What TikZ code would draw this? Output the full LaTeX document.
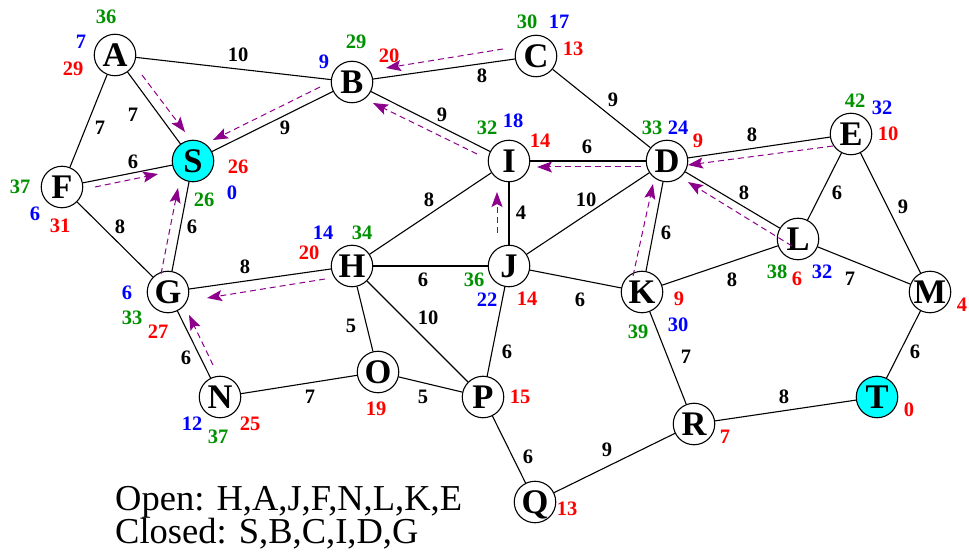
\documentclass[tikz,border=0pt]{standalone}
\usepackage{fontspec}
\setmainfont{Liberation Serif}
\usetikzlibrary{arrows.meta}
\definecolor{lgreen}{RGB}{0,145,0}
\definecolor{lblue}{RGB}{0,0,255}
\definecolor{lred}{RGB}{255,0,0}
\definecolor{ppurple}{RGB}{140,0,140}
\definecolor{vcyan}{RGB}{0,255,255}
\begin{document}
\begin{tikzpicture}[x=1pt,y=-1pt,
  vtx/.style={circle,draw=black,line width=1.1pt,fill=white,minimum size=41.5pt,inner sep=0pt,
    text height=22.5pt,text depth=0pt,font=\fontsize{34.5}{34.5}\selectfont\bfseries},
  goal/.style={vtx,fill=vcyan},
  edge/.style={line width=1.1pt,black},
  num/.style={inner sep=0pt,font=\fontsize{20.5}{20.5}\selectfont\bfseries},
  wnum/.style={num,text=black},
  gnum/.style={num,text=lgreen},
  bnum/.style={num,text=lblue},
  rnum/.style={num,text=lred},
  parent/.style={ppurple,line width=1pt,dash pattern=on 6pt off 4pt,
    -{Stealth[length=15pt,width=11pt,inset=3pt]}},
  info/.style={anchor=base west,inner sep=0pt,font=\fontsize{36.5}{36.5}\selectfont}
]
\useasboundingbox (0,0) rectangle (969,553);

% vertices
\node[vtx]  (A) at (115,55)  {\makebox[0pt]{A}};
\node[goal] (S) at (193,161) {\makebox[0pt]{S}};
\node[vtx]  (F) at (62,187)  {\makebox[0pt]{F}};
\node[vtx]  (B) at (352,82)  {\makebox[0pt]{B}};
\node[vtx]  (C) at (536,56)  {\makebox[0pt]{C}};
\node[vtx]  (I) at (509,161) {\makebox[0pt]{I}};
\node[vtx]  (H) at (352,266) {\makebox[0pt]{H}};
\node[vtx]  (J) at (509,266) {\makebox[0pt]{J}};
\node[vtx]  (D) at (667,161) {\makebox[0pt]{D}};
\node[vtx]  (E) at (851,134) {\makebox[0pt]{E}};
\node[vtx]  (L) at (798,239) {\makebox[0pt]{L}};
\node[vtx]  (G) at (168,292) {\makebox[0pt]{G}};
\node[vtx]  (N) at (220,397) {\makebox[0pt]{N}};
\node[vtx]  (O) at (378,372) {\makebox[0pt]{O}};
\node[vtx]  (P) at (483,397) {\makebox[0pt]{P}};
\node[vtx]  (Q) at (535,502) {\makebox[0pt]{Q}};
\node[vtx]  (K) at (642,292) {\makebox[0pt]{K}};
\node[vtx]  (M) at (930,292) {\makebox[0pt]{M}};
\node[vtx]  (R) at (694,424) {\makebox[0pt]{R}};
\node[goal] (T) at (877,397) {\makebox[0pt]{T}};

% edges
\draw[edge] (A) -- (B);
\draw[edge] (A) -- (S);
\draw[edge] (A) -- (F);
\draw[edge] (F) -- (S);
\draw[edge] (F) -- (G);
\draw[edge] (S) -- (B);
\draw[edge] (S) -- (G);
\draw[edge] (B) -- (C);
\draw[edge] (B) -- (I);
\draw[edge] (C) -- (D);
\draw[edge] (I) -- (D);
\draw[edge] (I) -- (J);
\draw[edge] (I) -- (H);
\draw[edge] (D) -- (E);
\draw[edge] (D) -- (L);
\draw[edge] (D) -- (J);
\draw[edge] (D) -- (K);
\draw[edge] (E) -- (L);
\draw[edge] (E) -- (M);
\draw[edge] (L) -- (K);
\draw[edge] (L) -- (M);
\draw[edge] (G) -- (H);
\draw[edge] (H) -- (J);
\draw[edge] (H) -- (O);
\draw[edge] (H) -- (P);
\draw[edge] (J) -- (K);
\draw[edge] (J) -- (P);
\draw[edge] (G) -- (N);
\draw[edge] (N) -- (O);
\draw[edge] (O) -- (P);
\draw[edge] (P) -- (Q);
\draw[edge] (Q) -- (R);
\draw[edge] (K) -- (R);
\draw[edge] (R) -- (T);
\draw[edge] (M) -- (T);

% edge weights
\node[wnum] (wAB) at (238,55)  {10};
\node[wnum] (wAS) at (133,115) {7};
\node[wnum] (wAF) at (100,128) {7};
\node[wnum] (wFS) at (133,162) {6};
\node[wnum] (wFG) at (120,227) {8};
\node[wnum] (wSB) at (285,128) {9};
\node[wnum] (wSG) at (192,227) {6};
\node[wnum] (wGH) at (245,267) {8};
\node[wnum] (wBC) at (482,76)  {8};
\node[wnum] (wBI) at (442,115) {9};
\node[wnum] (wCD) at (613,100) {9};
\node[wnum] (wID) at (587,147) {6};
\node[wnum] (wHI) at (429,200) {8};
\node[wnum] (wIJ) at (521,213) {4};
\node[wnum] (wJD) at (586,200) {10};
\node[wnum] (wDE) at (752,135) {8};
\node[wnum] (wDL) at (744,193) {8};
\node[wnum] (wDK) at (666,233) {6};
\node[wnum] (wEL) at (837,193) {6};
\node[wnum] (wEM) at (903,207) {9};
\node[wnum] (wKL) at (732,280) {8};
\node[wnum] (wLM) at (850,279) {7};
\node[wnum] (wHJ) at (423,280) {6};
\node[wnum] (wHP) at (428,318) {10};
\node[wnum] (wHO) at (351,326) {5};
\node[wnum] (wJK) at (580,300) {6};
\node[wnum] (wJP) at (507,352) {6};
\node[wnum] (wOP) at (423,397) {5};
\node[wnum] (wNO) at (310,397) {7};
\node[wnum] (wGN) at (186,358) {6};
\node[wnum] (wPQ) at (528,457) {6};
\node[wnum] (wQR) at (607,450) {9};
\node[wnum] (wKR) at (686,357) {7};
\node[wnum] (wRT) at (784,397) {8};
\node[wnum] (wMT) at (915,352) {6};

% g / h / f values
\node[gnum] (Ag) at (106,17)  {36};
\node[bnum] (Ab) at (81,42)   {7};
\node[rnum] (Ar) at (73,69)   {29};
\node[rnum] (Sr) at (238,167) {26};
\node[bnum] (Sb) at (232,193) {0};
\node[gnum] (Sg) at (204,200) {26};
\node[gnum] (Fg) at (20,187)  {37};
\node[bnum] (Fb) at (35,214)  {6};
\node[rnum] (Fr) at (60,226)  {31};
\node[bnum] (Bb) at (324,62)  {9};
\node[gnum] (Bg) at (356,42)  {29};
\node[rnum] (Br) at (389,56)  {20};
\node[gnum] (Cg) at (527,22)  {30};
\node[bnum] (Cb) at (559,22)  {17};
\node[rnum] (Cr) at (573,49)  {13};
\node[gnum] (Ig) at (487,128) {32};
\node[bnum] (Ib) at (513,121) {18};
\node[rnum] (Ir) at (540,141) {14};
\node[gnum] (Dg) at (652,128) {33};
\node[bnum] (Db) at (678,128) {24};
\node[rnum] (Dr) at (698,141) {9};
\node[gnum] (Eg) at (855,101) {42};
\node[bnum] (Eb) at (882,108) {32};
\node[rnum] (Er) at (888,134) {10};
\node[gnum] (Lg) at (777,272) {38};
\node[rnum] (Lr) at (797,279) {6};
\node[bnum] (Lb) at (822,272) {32};
\node[rnum] (Kr) at (679,299) {9};
\node[bnum] (Kb) at (678,325) {30};
\node[gnum] (Kg) at (638,332) {39};
\node[rnum] (Mr) at (962,305) {4};
\node[rnum] (Tr) at (909,410) {0};
\node[rnum] (Rr) at (725,437) {7};
\node[bnum] (Hb) at (323,233) {14};
\node[gnum] (Hg) at (362,233) {34};
\node[rnum] (Hr) at (309,253) {20};
\node[gnum] (Jg) at (474,280) {36};
\node[bnum] (Jb) at (487,300) {22};
\node[rnum] (Jr) at (527,299) {14};
\node[bnum] (Gb) at (127,293) {6};
\node[gnum] (Gg) at (132,318) {33};
\node[rnum] (Gr) at (158,332) {27};
\node[bnum] (Nb) at (192,424) {12};
\node[gnum] (Ng) at (218,437) {37};
\node[rnum] (Nr) at (250,424) {25};
\node[rnum] (Or) at (376,409) {19};
\node[rnum] (Pr) at (520,397) {15};
\node[rnum] (Qr) at (567,509) {13};

% parent pointers
\coordinate (pA1) at (142,75);  \coordinate (pA2) at (185,132);
\coordinate (pB1) at (320,87);  \coordinate (pB2) at (213,140);
\coordinate (pF1) at (95,187);  \coordinate (pF2) at (158,174);
\coordinate (pG1) at (161,274); \coordinate (pG2) at (178,188);
\coordinate (pC1) at (503,49);  \coordinate (pC2) at (386,68);
\coordinate (pI1) at (477,154); \coordinate (pI2) at (373,103);
\coordinate (pD1) at (641,167); \coordinate (pD2) at (537,167);
\coordinate (pJ1) at (497,233); \coordinate (pJ2) at (497,192);
\coordinate (pE1) at (833,146); \coordinate (pE2) at (688,165);
\coordinate (pL1) at (792,246); \coordinate (pL2) at (688,182);
\coordinate (pK1) at (633,276); \coordinate (pK2) at (653,184);
\coordinate (pH1) at (325,279); \coordinate (pH2) at (207,298);
\coordinate (pN1) at (213,365); \coordinate (pN2) at (189,315);
\draw[parent] (pA1) -- (pA2);
\draw[parent] (pB1) -- (pB2);
\draw[parent] (pF1) -- (pF2);
\draw[parent] (pG1) -- (pG2);
\draw[parent] (pC1) -- (pC2);
\draw[parent] (pI1) -- (pI2);
\draw[parent] (pD1) -- (pD2);
\draw[parent] (pJ1) -- (pJ2);
\draw[parent] (pE1) -- (pE2);
\draw[parent] (pL1) -- (pL2);
\draw[parent] (pK1) -- (pK2);
\draw[parent] (pH1) -- (pH2);
\draw[parent] (pN1) -- (pN2);

% lists
\node[info] (open) at (115,510) {Open: H,A,J,F,N,L,K,E};
\node[info] (closed) at (115,543) {Closed: S,B,C,I,D,G};
\end{tikzpicture}
\end{document}
